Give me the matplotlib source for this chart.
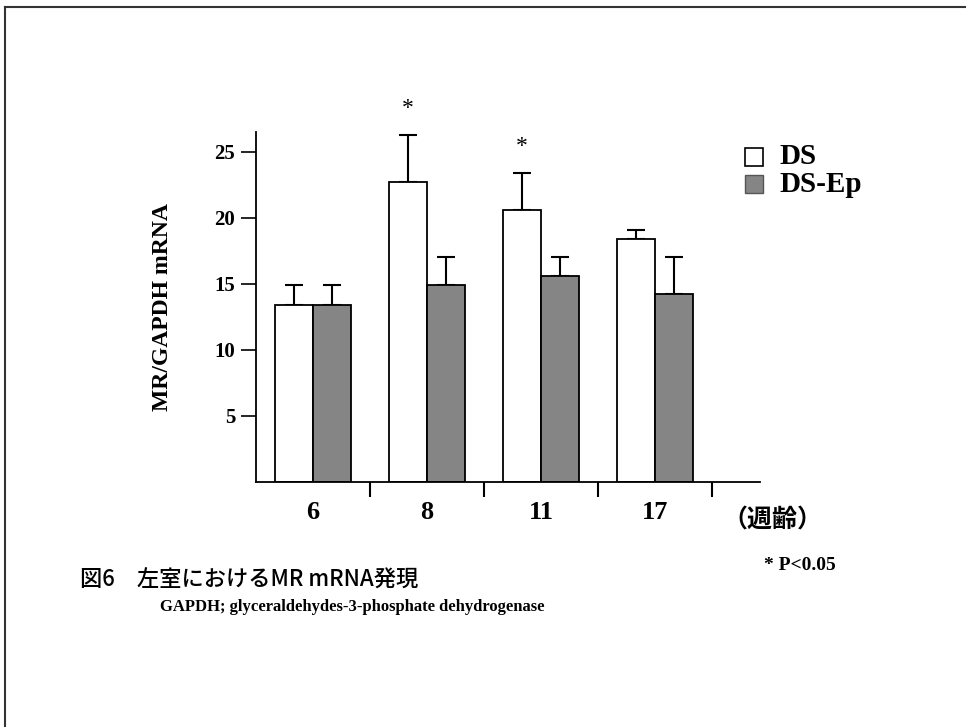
#!/usr/bin/env python3
# -*- coding: utf-8 -*-
"""
Figura 6: expressão de MR mRNA no ventrículo esquerdo (DS vs DS-Ep)
"""

import numpy as np
import matplotlib
matplotlib.use('Agg')
import matplotlib.pyplot as plt
from matplotlib.lines import Line2D
from matplotlib.patches import Rectangle

# Dados
semanas = ["6", "8", "11", "17"]
ds_media = [13.4, 22.7, 20.6, 18.4]
ds_erro = [1.5, 3.6, 2.8, 0.7]
dsep_media = [13.4, 14.9, 15.6, 14.2]
dsep_erro = [1.5, 2.1, 1.4, 2.8]
y_ticks = [5, 10, 15, 20, 25]
significativo = [False, True, True, False]

SERIF = ['Liberation Serif', 'DejaVu Serif']
JP = ['Noto Sans CJK JP', 'DejaVu Sans']
CINZA = '#858585'


def criar_figura():
    fig = plt.figure(figsize=(9.66, 7.27), dpi=100)
    ax = fig.add_axes([256 / 966, 1 - 482 / 727, 504 / 966, 350 / 727])

    x = np.arange(len(semanas)) + 0.5
    largura = 0.335

    ax.bar(x - largura / 2, ds_media, largura, color='white',
           edgecolor='black', linewidth=1.3, zorder=2)
    ax.bar(x + largura / 2, dsep_media, largura, color=CINZA,
           edgecolor='black', linewidth=1.3, zorder=2)

    # barras de erro (só para cima)
    ax.errorbar(x - largura / 2, ds_media, yerr=[np.zeros(4), ds_erro],
                fmt='none', ecolor='black', elinewidth=1.5, capsize=6.8,
                capthick=1.5, zorder=1)
    ax.errorbar(x + largura / 2, dsep_media, yerr=[np.zeros(4), dsep_erro],
                fmt='none', ecolor='black', elinewidth=1.5, capsize=6.8,
                capthick=1.5, zorder=1)

    # asteriscos de significância
    for xi, m, e, s in zip(x, ds_media, ds_erro, significativo):
        if s:
            ax.text(xi - largura / 2, m + e + 1.2, '*', ha='center',
                    va='bottom', fontsize=17, family=SERIF)

    ax.set_xlim(0, 4.42)
    ax.set_ylim(0, 26.5)

    for lado in ['top', 'right']:
        ax.spines[lado].set_visible(False)
    ax.spines['left'].set_linewidth(1.3)
    ax.spines['bottom'].set_linewidth(1.3)

    ax.set_yticks(y_ticks)
    ax.set_yticklabels([str(v) for v in y_ticks], family=SERIF,
                       fontweight='bold', fontsize=15)
    ax.tick_params(axis='y', direction='out', length=11, width=1.2, pad=4)

    # separadores no eixo x e rótulos centrados nos grupos
    ax.set_xticks([1, 2, 3, 4])
    ax.set_xticklabels([])
    ax.tick_params(axis='x', which='major', direction='out', length=11,
                   width=1.5)
    ax.set_xticks(x, minor=True)
    ax.set_xticklabels(semanas, minor=True, family=SERIF,
                       fontweight='bold', fontsize=19)
    ax.tick_params(axis='x', which='minor', length=0, pad=14)

    ax.set_ylabel('MR/GAPDH mRNA', family=SERIF, fontweight='bold',
                  fontsize=17, labelpad=30)

    # legenda manual
    fig.add_artist(Rectangle((745 / 966, 1 - 166 / 727), 18 / 966, 18 / 727,
                             transform=fig.transFigure, facecolor='white',
                             edgecolor='black', linewidth=1.2))
    fig.add_artist(Rectangle((745 / 966, 1 - 193 / 727), 18 / 966, 18 / 727,
                             transform=fig.transFigure, facecolor=CINZA,
                             edgecolor='#555555', linewidth=1.0))
    fig.text(779 / 966, 1 - 157 / 727, 'DS', family=SERIF,
             fontweight='bold', fontsize=21, va='center')
    fig.text(779 / 966, 1 - 184 / 727, 'DS-Ep', family=SERIF,
             fontweight='bold', fontsize=21, va='center')

    fig.text(772 / 966, 1 - 520 / 727, '（週齢）', family=JP,
             fontweight='bold', fontsize=18, ha='center', va='center')
    fig.text(800 / 966, 1 - 566 / 727, '* P<0.05', family=SERIF,
             fontweight='bold', fontsize=14, ha='center', va='center')

    # legenda da figura
    fig.text(80 / 966, 1 - 580 / 727, '図6　左室におけるMR mRNA発現',
             family=JP, fontweight='medium', fontsize=16, va='center')
    fig.text(160 / 966, 1 - 607 / 727,
             'GAPDH; glyceraldehydes-3-phosphate dehydrogenase',
             family=SERIF, fontweight='bold', fontsize=12, va='center')

    # moldura (só topo e esquerda)
    fig.add_artist(Line2D([5 / 966, 1], [1 - 7 / 727, 1 - 7 / 727],
                          transform=fig.transFigure, color='#333333',
                          linewidth=1.5))
    fig.add_artist(Line2D([5 / 966, 5 / 966], [0, 1 - 7 / 727],
                          transform=fig.transFigure, color='#333333',
                          linewidth=1.5))

    fig.savefig('out.png', dpi=100)


if __name__ == "__main__":
    criar_figura()
